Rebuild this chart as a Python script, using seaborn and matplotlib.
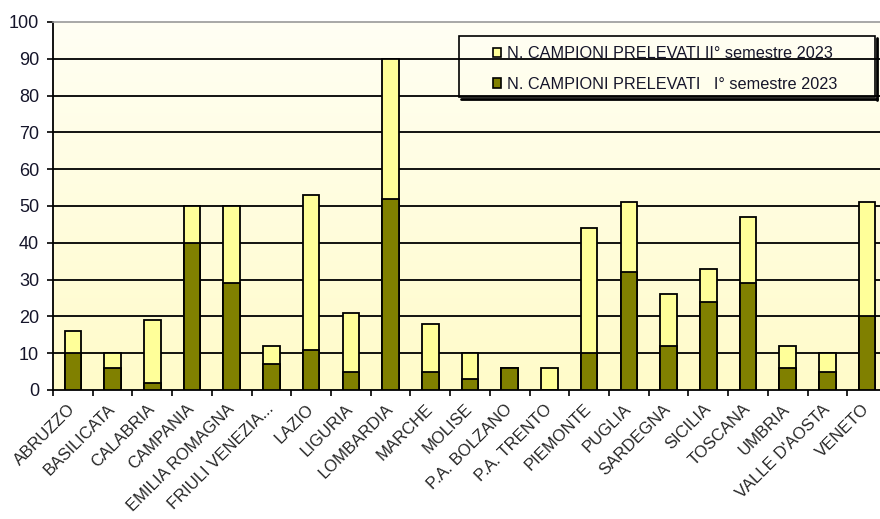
import numpy as np
import pandas as pd
import matplotlib
matplotlib.use("Agg")
import matplotlib.pyplot as plt
import matplotlib.colors as mcolors
from matplotlib.patches import Patch, Rectangle
from matplotlib.lines import Line2D
import seaborn as sns

# Campioni prelevati per regione / provincia autonoma
regioni = ["ABRUZZO", "BASILICATA", "CALABRIA", "CAMPANIA", "EMILIA ROMAGNA",
           "FRIULI VENEZIA...", "LAZIO", "LIGURIA", "LOMBARDIA", "MARCHE", "MOLISE",
           "P.A. BOLZANO", "P.A. TRENTO", "PIEMONTE", "PUGLIA", "SARDEGNA", "SICILIA",
           "TOSCANA", "UMBRIA", "VALLE D'AOSTA", "VENETO"]
primo_sem = [10, 6, 2, 40, 29, 7, 11, 5, 52, 5, 3, 6, 0, 10, 32, 12, 24, 29, 6, 5, 20]
secondo_sem = [6, 4, 17, 10, 21, 5, 42, 16, 38, 13, 7, 0, 6, 34, 19, 14, 9, 18, 6, 5, 31]
yticks = list(range(0, 101, 10))

label_secondo = "N. CAMPIONI PRELEVATI II\u00b0 semestre 2023"
label_primo = "N. CAMPIONI PRELEVATI   I\u00b0 semestre 2023"

df = pd.DataFrame({"regione": regioni, "primo": primo_sem, "secondo": secondo_sem})
df["totale"] = df["primo"] + df["secondo"]

col_scuro = "#808000"
col_chiaro = "#FFFF99"

sns.set_style("white")
plt.rcParams["font.family"] = ["Liberation Sans", "DejaVu Sans"]

W, H = 880, 519
fig = plt.figure(figsize=(W / 100, H / 100), dpi=100)
fig.patch.set_facecolor("white")
ax = fig.add_axes([53 / W, 129 / H, 834 / W, 368 / H])

# stacked bars: full height first (II semestre on top), then I semestre over it
sns.barplot(data=df, x="regione", y="totale", color=col_chiaro, saturation=1,
            width=0.42, edgecolor="black", linewidth=1.3, errorbar=None, ax=ax, zorder=2)
sns.barplot(data=df, x="regione", y="primo", color=col_scuro, saturation=1,
            width=0.42, edgecolor="black", linewidth=1.3, errorbar=None, ax=ax, zorder=3)

n = len(regioni)

# soft vertical gradient behind the plot area
grad = np.linspace(0, 1, 256)[:, None, None]
c_top = np.array(mcolors.to_rgb("#FFFFF4"))
c_bot = np.array(mcolors.to_rgb("#FFFBC9"))
img = c_top + (c_bot - c_top) * grad
ax.imshow(img, extent=[-0.5, n - 0.5, 0, 100], aspect="auto", origin="upper", zorder=-2)
ax.set_xlim(-0.5, n - 0.5)
ax.set_ylim(0, 100)

for y in yticks[1:-1]:
    ax.axhline(y, color="black", linewidth=1.3, zorder=1)

ax.set_xlabel("")
ax.set_ylabel("")

ax.set_yticks(yticks)
ax.set_yticklabels([str(v) for v in yticks], fontsize=13, color="#15152a")
ax.tick_params(axis="y", direction="out", length=4, width=1.2, color="black", pad=6, left=True)

ax.set_xticks(range(n))
ax.set_xticklabels(regioni, rotation=45, ha="right", va="center", rotation_mode="anchor",
                   fontsize=12, color="#262626")
ax.tick_params(axis="x", which="major", length=0, pad=12, bottom=True)
ax.set_xticks(np.arange(-0.5, n, 1.0), minor=True)
ax.tick_params(axis="x", which="minor", direction="out", length=4, width=1.2, color="black", bottom=True)

for side in ["left", "bottom"]:
    ax.spines[side].set_color("black")
    ax.spines[side].set_linewidth(1.3)
ax.spines["top"].set_color("#9a9a9a")
ax.spines["top"].set_linewidth(1.2)
ax.spines["right"].set_visible(False)

# legend frame with a drop shadow on the lower/right edges
def fx(px):
    return px / W

def fy(py):
    return 1 - py / H

x0, x1, y0, y1 = 459, 875, 36, 97
fig.add_artist(Rectangle((fx(x0), fy(y1)), fx(x1) - fx(x0), fy(y0) - fy(y1),
                         transform=fig.transFigure, fill=False, edgecolor="black", linewidth=1.2))
fig.add_artist(Line2D([fx(x0 + 2), fx(x1 + 2)], [fy(y1 + 1.5), fy(y1 + 1.5)],
                      transform=fig.transFigure, color="black", linewidth=2))
fig.add_artist(Line2D([fx(x1 + 1.5), fx(x1 + 1.5)], [fy(y0 + 2), fy(y1 + 2.5)],
                      transform=fig.transFigure, color="black", linewidth=2))

handles = [Patch(facecolor=col_chiaro, edgecolor="black", linewidth=1.2, label=label_secondo),
           Patch(facecolor=col_scuro, edgecolor="black", linewidth=1.2, label=label_primo)]
leg = fig.legend(handles=handles, loc="center left", bbox_to_anchor=(fx(493), fy(69)),
                 frameon=False, fontsize=11.7, handlelength=0.5, handleheight=0.5,
                 handletextpad=0.35, labelspacing=0.95, borderpad=0, borderaxespad=0)
for t in leg.get_texts():
    t.set_color("#15152a")

fig.savefig("out.png", dpi=100, facecolor="white")
